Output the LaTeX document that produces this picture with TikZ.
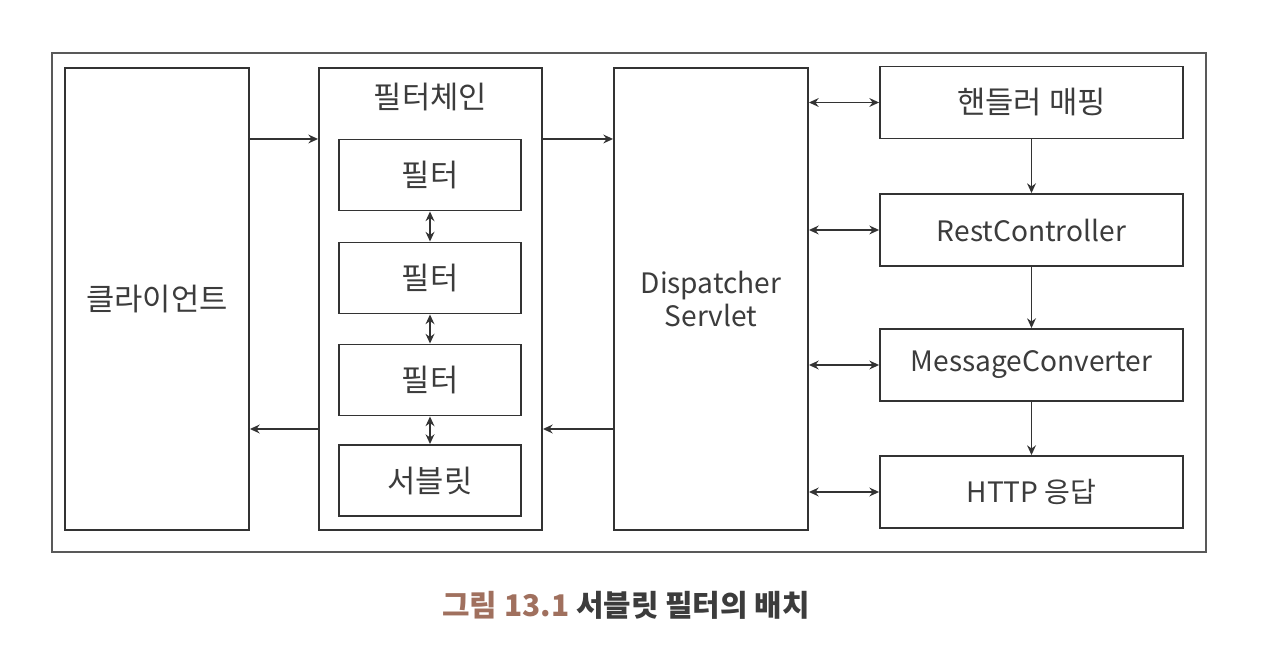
\documentclass[tikz,border=0pt]{standalone}
\usepackage{fontspec}
\setmainfont{Noto Sans CJK KR}
\usetikzlibrary{arrows.meta,positioning}
\definecolor{linegray}{HTML}{333333}
\definecolor{textgray}{HTML}{3C3C3C}
\definecolor{capbrown}{HTML}{A0705E}

\begin{document}
\begin{tikzpicture}[
  x=0.02cm, y=-0.02cm,
  font=\fontsize{16}{19}\selectfont, text=textgray,
  kor/.style={font=\fontsize{17.5}{20}\selectfont},
  box/.style={draw=linegray, line width=1.1pt, inner sep=0pt, align=center},
  big/.style={box, minimum height=9.24cm},
  flt/.style={box, kor, minimum width=3.64cm, minimum height=1.42cm},
  rbox/.style={box, minimum width=6.06cm, minimum height=1.44cm},
  arr/.style={-{Stealth[length=5.5pt,width=5pt]}, line width=0.9pt, draw=linegray},
  darr/.style={{Stealth[length=5.5pt,width=5pt]}-{Stealth[length=5.5pt,width=5pt]}, line width=0.9pt, draw=linegray},
]
\useasboundingbox[fill=white] (0,0) rectangle (1280,651);

% ---- outer frame ----
\draw[draw=black!65, line width=1.1pt] (52,53) rectangle (1206,552);

% ---- big columns ----
\node[big, kor, minimum width=3.68cm] (client) at (157,299) {클라이언트};
\node[big, minimum width=4.46cm] (chain)  at (430.5,299) {};
\node[kor] at (430.5,97) {필터체인};
\node[big, minimum width=3.88cm] (disp)   at (711,299) {Dispatcher\\Servlet};

% ---- filters ----
\node[flt] (f1) at (430,175) {필터};
\node[flt] (f2) at (430,278) {필터};
\node[flt] (f3) at (430,380) {필터};
\node[flt] (sv) at (430,480.5) {서블릿};

% ---- right column ----
\node[rbox, kor] (hm) at (1031.5,102.5) {핸들러 매핑};
\node[rbox] (rc) at (1031.5,230) {RestController};
\node[rbox] (mc) at (1031.5,365) {MessageConverter};
\node[rbox] (hr) at (1031.5,492) {HTTP 응답};

% ---- levels ----
\coordinate (fwd)  at (0,139);
\coordinate (back) at (0,429);

% ---- edges ----
\draw[arr] (client.east |- fwd) -- (chain.west |- fwd);
\draw[arr] (chain.east |- fwd)  -- (disp.west |- fwd);
\draw[arr] (chain.west |- back) -- (client.east |- back);
\draw[arr] (disp.west |- back)  -- (chain.east |- back);
\draw[darr] (f1.south) -- (f2.north);
\draw[darr] (f2.south) -- (f3.north);
\draw[darr] (f3.south) -- (sv.north);
\draw[darr] (disp.east |- hm) -- (hm.west);
\draw[darr] (disp.east |- rc) -- (rc.west);
\draw[darr] (disp.east |- mc) -- (mc.west);
\draw[darr] (disp.east |- hr) -- (hr.west);
\draw[arr] (hm.south) -- (rc.north);
\draw[arr] (rc.south) -- (mc.north);
\draw[arr] (mc.south) -- (hr.north);

% ---- caption ----
\node[font=\fontsize{17}{20}\selectfont\bfseries] (cap) at (626,605)
  {\textcolor{capbrown}{그림 13.1} 서블릿 필터의 배치};

\end{tikzpicture}
\end{document}
